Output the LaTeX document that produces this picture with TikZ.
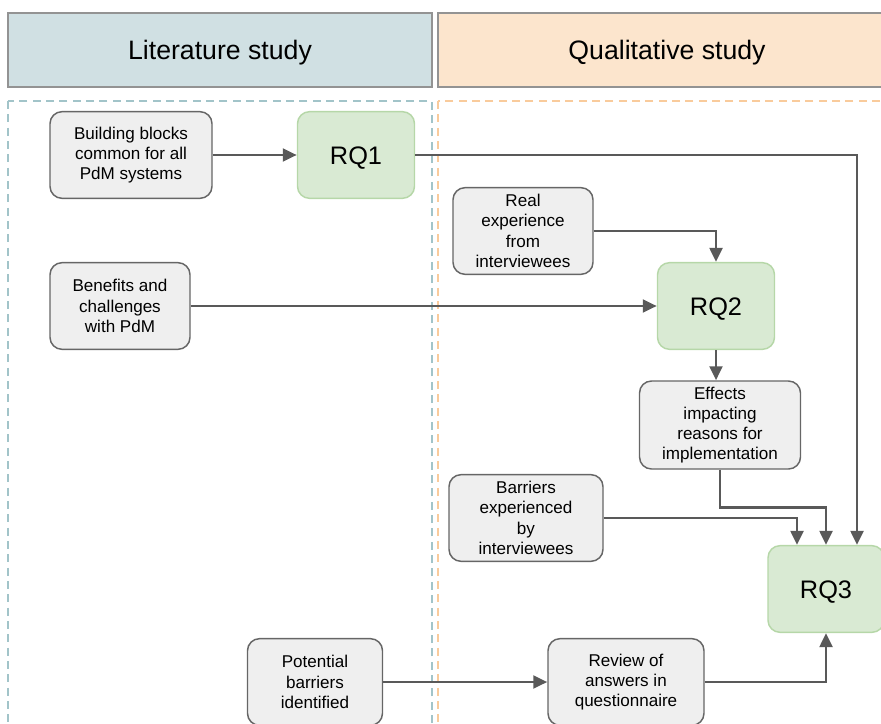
\documentclass[tikz,border=0pt]{standalone}
\usepackage{fontspec}
\setmainfont{Liberation Sans}
\usetikzlibrary{arrows.meta, positioning, calc}
\definecolor{litblue}{RGB}{208,224,227}
\definecolor{litdash}{RGB}{162,196,201}
\definecolor{qualorange}{RGB}{252,229,205}
\definecolor{qualdash}{RGB}{249,203,156}
\definecolor{rqgreen}{RGB}{217,234,211}
\definecolor{rqborder}{RGB}{182,215,168}
\definecolor{boxgray}{RGB}{239,239,239}
\definecolor{arrowgray}{RGB}{89,89,89}

\begin{document}
\begin{tikzpicture}[x=0.75pt,y=-0.75pt,
    header/.style={draw=gray!85,line width=1.2pt,minimum height=55.5pt,inner sep=0pt,
        text height=14.3pt,text depth=0pt,font=\fontsize{20}{24}\selectfont},
    zone/.style={line width=1.1pt,dash pattern=on 6pt off 4pt},
    info/.style={draw=black!60,line width=1.1pt,fill=boxgray,rounded corners=9pt,align=center,
        minimum height=65pt,inner sep=2pt,font=\fontsize{12.8}{15.2}\selectfont},
    rq/.style={draw=rqborder,line width=1.1pt,fill=rqgreen,rounded corners=9pt,
        minimum width=87.75pt,minimum height=65pt,text height=13.6pt,text depth=0pt,
        font=\fontsize{19}{23}\selectfont},
    flow/.style={draw=arrowgray,line width=2.2pt,-{Triangle[length=10.5pt,width=9.5pt]}}]
    \useasboundingbox (0,0) rectangle (881,724);
    \clip (0,0) rectangle (881,724);

    % headers
    \node[header,fill=litblue,minimum width=318pt] (lit) at (220,50) {Literature study};
    \node[header,fill=qualorange,minimum width=343.5pt] (qual) at (667,50) {Qualitative study};

    % dashed zones
    \draw[zone,draw=litdash] (8,101) rectangle (432,760);
    \draw[zone,draw=qualdash] (438,101) rectangle (900,760);

    % literature side
    \node[info,minimum width=121.5pt] (blocks) at (131,155) {Building blocks\\common for all\\PdM systems};
    \node[rq] (rq1) at (356,155) {RQ1};
    \node[info,minimum width=105pt] (benefits) at (120,306) {Benefits and\\challenges\\with PdM};
    \node[info,minimum width=101.25pt] (potential) at (315,682) {Potential\\barriers\\identified};

    % qualitative side
    \node[info,minimum width=105pt] (real) at (523,231) {Real\\experience\\from\\interviewees};
    \node[rq] (rq2) at (716,306) {RQ2};
    \node[info,minimum width=120.75pt,minimum height=66pt] (effects) at (720,425) {Effects\\impacting\\reasons for\\implementation};
    \node[info,minimum width=115.5pt] (barriers) at (526,518) {Barriers\\experienced\\by\\interviewees};
    \node[rq,minimum width=87pt] (rq3) at (826,589) {RQ3};
    \node[info,minimum width=117pt] (review) at (626,682) {Review of\\answers in\\questionnaire};

    % arrows
    \draw[flow] (blocks) -- (rq1);
    \draw[flow] (rq1.east) -| ([xshift=23.25pt]rq3.north);
    \draw[flow] (real.east) -| (rq2.north);
    \draw[flow] (benefits) -- (rq2);
    \draw[flow] (rq2.south) -- (rq2.south |- effects.north);
    \draw[flow] (effects.south) -- ++(0,38) -| (rq3.north);
    \draw[flow] (barriers.east) -| ([xshift=-21.75pt]rq3.north);
    \draw[flow] (potential) -- (review);
    \draw[flow] (review.east) -| (rq3.south);
\end{tikzpicture}
\end{document}
